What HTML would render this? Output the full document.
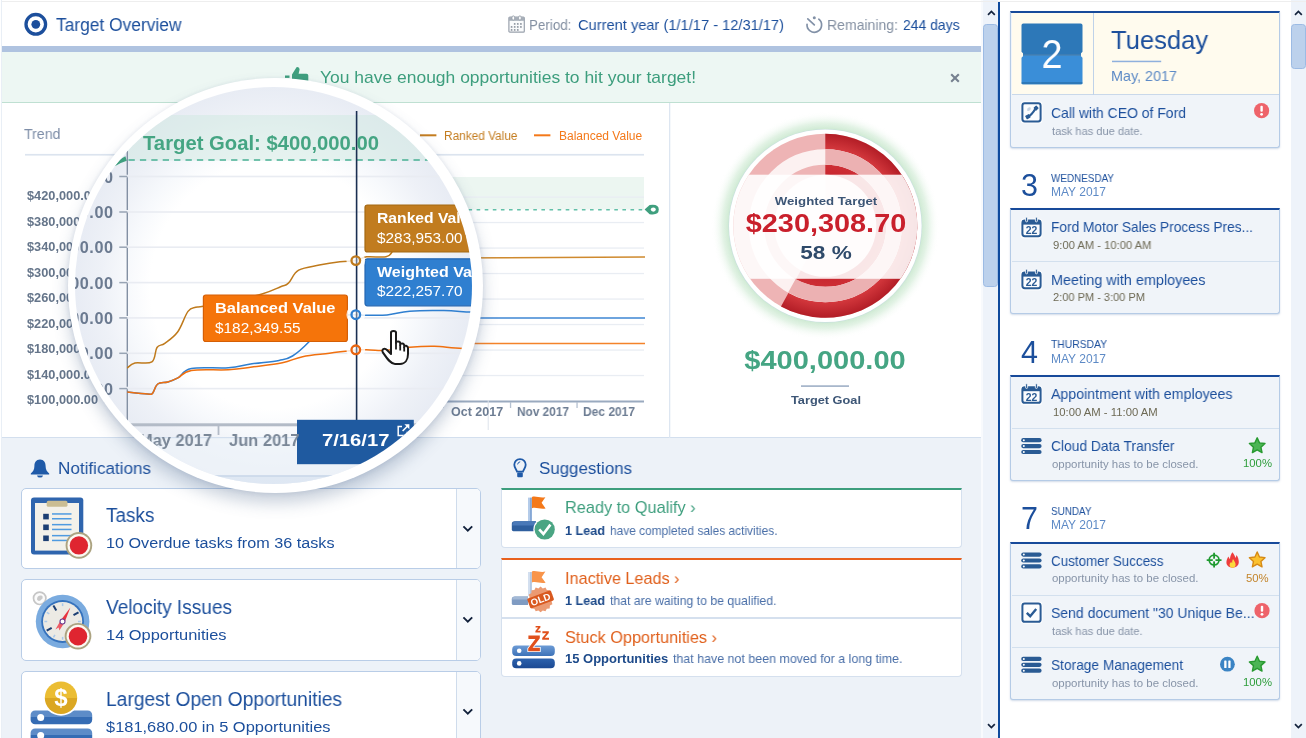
<!DOCTYPE html>
<html>
<head>
<meta charset="utf-8">
<title>Target Overview</title>
<style>
*{box-sizing:border-box;margin:0;padding:0}
html,body{width:1306px;height:738px;overflow:hidden;background:#fff;font-family:"Liberation Sans",sans-serif;color:#1c4f9c}
.abs{position:absolute}
svg{position:absolute;overflow:visible}
#main{position:absolute;left:0;top:0;width:980.5px;height:738px;background:#edf2f8;overflow:hidden}
#hdr{position:absolute;left:0;top:0;width:981px;height:46px;background:#fff}
#hdrline{position:absolute;left:0;top:46px;width:982px;height:6px;background:#afc3e0}
#banner{position:absolute;left:0;top:52px;width:982px;height:51px;background:#edf7f3;border-bottom:1px solid #bfe0d2}
#chartpanel{position:absolute;left:0;top:103px;width:982px;height:335px;background:#fff;border-bottom:1px solid #d3dfee}
.t{position:absolute;white-space:nowrap;line-height:1;will-change:transform}
#sb1{position:absolute;left:983px;top:0;width:14.8px;height:738px;background:#eef3fa}
#gap1{position:absolute;left:980.5px;top:0;width:2.5px;height:738px;background:#f8fafd}
#sb2{position:absolute;left:1291px;top:0;width:15px;height:738px;background:#eef3fa}
#vline{position:absolute;left:998px;top:2px;width:2.2px;height:736px;background:#0f4a9c}
#side{position:absolute;left:1000px;top:0;width:291px;height:738px;background:#fff;overflow:hidden}
#topline{position:absolute;left:0;top:0.5px;width:1306px;height:1px;background:#eeeeee}
</style>
</head>
<body>
<div id="main">
  <div id="hdr">
<svg style="left:23px;top:12px" width="26" height="26" viewBox="0 0 26 26"><circle cx="12.8" cy="12.3" r="9.8" fill="none" stroke="#1c4f9c" stroke-width="3.3"/><circle cx="12.8" cy="12.3" r="4.4" fill="#1c4f9c"/></svg>
<div class="t" style="left:56px;top:15.56px;font-size:18px;color:#1c4f9c;transform:scaleX(0.9650);transform-origin:0 50%;">Target Overview</div>
<svg style="left:507px;top:15px" width="19" height="19" viewBox="0 0 19 19"><rect x="1.9" y="2.2" width="15.4" height="15" rx="1" fill="#fafbfc" stroke="#99a1ac" stroke-width="1.2"/><rect x="1.9" y="2.2" width="15.4" height="3.6" fill="#a7aeb8"/><rect x="5" y="0.9" width="2.6" height="4.2" rx="1.3" fill="#fff" stroke="#99a1ac" stroke-width="0.9"/><rect x="11.6" y="0.9" width="2.6" height="4.2" rx="1.3" fill="#fff" stroke="#99a1ac" stroke-width="0.9"/><circle cx="7.7" cy="8.9" r="0.95" fill="#8b939e"/><circle cx="10.8" cy="8.9" r="0.95" fill="#8b939e"/><circle cx="13.9" cy="8.9" r="0.95" fill="#8b939e"/><circle cx="4.6" cy="11.9" r="0.95" fill="#8b939e"/><circle cx="7.7" cy="11.9" r="0.95" fill="#8b939e"/><circle cx="10.8" cy="11.9" r="0.95" fill="#8b939e"/><circle cx="13.9" cy="11.9" r="0.95" fill="#8b939e"/><circle cx="4.6" cy="14.9" r="0.95" fill="#8b939e"/><circle cx="7.7" cy="14.9" r="0.95" fill="#8b939e"/><circle cx="10.8" cy="14.9" r="0.95" fill="#8b939e"/></svg>
<div class="t" style="left:528.5px;top:16.80px;font-size:15px;color:#8490a2;transform:scaleX(0.8941);transform-origin:0 50%;">Period:</div>
<div class="t" style="left:577.5px;top:16.80px;font-size:15px;color:#1c4f9c;transform:scaleX(0.9765);transform-origin:0 50%;">Current year (1/1/17 - 12/31/17)</div>
<svg style="left:804px;top:14px" width="20" height="20" viewBox="0 0 20 20"><path d="M3.03 10.26 A7.3 7.3 0 1 0 14.79 5.15" fill="none" stroke="#8291a7" stroke-width="1.7" stroke-linecap="round"/><path d="M3.8 4.9 L10.3 10.9" stroke="#8291a7" stroke-width="1.7" stroke-linecap="round"/><circle cx="10.3" cy="3.8" r="1.5" fill="#8291a7"/></svg>
<div class="t" style="left:826.5px;top:16.80px;font-size:15px;color:#8490a2;transform:scaleX(0.9357);transform-origin:0 50%;">Remaining:</div>
<div class="t" style="left:902.5px;top:16.80px;font-size:15px;color:#1c4f9c;transform:scaleX(0.9279);transform-origin:0 50%;">244 days</div>
  </div>
  <div id="hdrline"></div>
  <div id="banner">
<svg style="left:284px;top:14px" width="26" height="20" viewBox="0 0 26 20"><rect x="1" y="9.5" width="4.5" height="2.4" fill="#3f9f7e"/><path d="M8 18 V8.5 L12.5 1.2 Q15.6 0.6 15.6 3.6 L14.6 7.8 H22.5 Q24.3 7.8 24.3 9.6 V18 Z" fill="#3f9f7e"/></svg>
<div class="t" style="left:320px;top:17.41px;font-size:17px;color:#3d9e7d;transform:scaleX(1.0271);transform-origin:0 50%;">You have enough opportunities to hit your target!</div>
<svg style="left:950px;top:20.7px" width="10" height="10" viewBox="0 0 10 10"><path d="M1.2 1.2 L8.8 8.8 M8.8 1.2 L1.2 8.8" stroke="#76818f" stroke-width="2.1"/></svg>
  </div>
  <div id="chartpanel"></div>
  <div class="abs" style="left:0;top:0;width:2px;height:738px;background:#e9eff6;z-index:5"></div><div class="abs" style="left:0;top:0;width:1.2px;height:738px;background:#fff;z-index:6"></div>
<div class="t" style="left:23.8px;top:126.30px;font-size:15px;color:#7e8ea8;transform:scaleX(0.9446);transform-origin:0 50%;">Trend</div>
<svg style="left:0;top:0" width="982" height="440" viewBox="0 0 982 440"><rect x="25" y="153.9" width="619" height="1.7" fill="#dce4ef"/><rect x="104" y="177" width="540" height="32.5" fill="#ecf6f1"/><rect x="104" y="196.4" width="540" height="1.3" fill="#e9edf3"/><rect x="104" y="221.9" width="540" height="1.3" fill="#e9edf3"/><rect x="104" y="247.4" width="540" height="1.3" fill="#e9edf3"/><rect x="104" y="272.9" width="540" height="1.3" fill="#e9edf3"/><rect x="104" y="298.4" width="540" height="1.3" fill="#e9edf3"/><rect x="104" y="323.9" width="540" height="1.3" fill="#e9edf3"/><rect x="104" y="349.4" width="540" height="1.3" fill="#e9edf3"/><rect x="104" y="374.9" width="540" height="1.3" fill="#e9edf3"/><rect x="104" y="400.5" width="540" height="2" fill="#9aaabf"/><rect x="442.4" y="402" width="1.3" height="6" fill="#b5c1d1"/><rect x="509.9" y="402" width="1.3" height="6" fill="#b5c1d1"/><rect x="576.4" y="402" width="1.3" height="6" fill="#b5c1d1"/><rect x="487.7" y="400" width="1" height="30" fill="#dde3ec"/><path d="M104 209.7 H645" stroke="#62c0a8" stroke-width="1.5" stroke-dasharray="3.6 4.5" fill="none"/><path d="M644.6 209.6 L649.6 205 Q658.8 203.6 658.8 209.6 Q658.8 215.6 649.6 214.2 Z" fill="#3f9f7e"/><ellipse cx="653.3" cy="209.6" rx="2.5" ry="2.1" fill="#fff"/><path d="M104 330 L300 300 L440 258 L645 257" stroke="#cf8a2e" stroke-width="1.5" fill="none"/><path d="M104 360 L300 340 L440 318 L645 318" stroke="#3f86d4" stroke-width="1.5" fill="none"/><path d="M104 365 L300 352 L440 343.5 L645 343.5" stroke="#f4832a" stroke-width="1.5" fill="none"/><rect x="420" y="134.3" width="16.4" height="2" fill="#c47d20"/><rect x="534" y="134.3" width="16.4" height="2" fill="#f4791a"/><rect x="669" y="103" width="1.3" height="335" fill="#dde6f1"/></svg>
<div class="t" style="left:444.4px;top:130.04px;font-size:12px;color:#c47d20;transform:scaleX(0.9866);transform-origin:0 50%;">Ranked Value</div>
<div class="t" style="left:558.8px;top:130.04px;font-size:12px;color:#f4791a;transform:scaleX(0.9977);transform-origin:0 50%;">Balanced Value</div>
<div class="t" style="left:27.3px;top:190.22px;font-size:12.5px;font-weight:bold;color:#65758a;transform:scaleX(1.0214);transform-origin:0 50%;">$420,000.00</div>
<div class="t" style="left:27.3px;top:215.75px;font-size:12.5px;font-weight:bold;color:#65758a;transform:scaleX(1.0214);transform-origin:0 50%;">$380,000.00</div>
<div class="t" style="left:27.3px;top:241.28px;font-size:12.5px;font-weight:bold;color:#65758a;transform:scaleX(1.0214);transform-origin:0 50%;">$340,000.00</div>
<div class="t" style="left:27.3px;top:266.81px;font-size:12.5px;font-weight:bold;color:#65758a;transform:scaleX(1.0214);transform-origin:0 50%;">$300,000.00</div>
<div class="t" style="left:27.3px;top:292.34px;font-size:12.5px;font-weight:bold;color:#65758a;transform:scaleX(1.0214);transform-origin:0 50%;">$260,000.00</div>
<div class="t" style="left:27.3px;top:317.87px;font-size:12.5px;font-weight:bold;color:#65758a;transform:scaleX(1.0214);transform-origin:0 50%;">$220,000.00</div>
<div class="t" style="left:27.3px;top:343.40px;font-size:12.5px;font-weight:bold;color:#65758a;transform:scaleX(1.0214);transform-origin:0 50%;">$180,000.00</div>
<div class="t" style="left:27.3px;top:368.93px;font-size:12.5px;font-weight:bold;color:#65758a;transform:scaleX(1.0214);transform-origin:0 50%;">$140,000.00</div>
<div class="t" style="left:27.3px;top:394.46px;font-size:12.5px;font-weight:bold;color:#65758a;transform:scaleX(1.0214);transform-origin:0 50%;">$100,000.00</div>
<div class="t" style="left:451px;top:405.72px;font-size:12.5px;font-weight:bold;color:#6d7d93;transform:scaleX(0.9976);transform-origin:0 50%;">Oct 2017</div>
<div class="t" style="left:517px;top:405.72px;font-size:12.5px;font-weight:bold;color:#6d7d93;transform:scaleX(0.9471);transform-origin:0 50%;">Nov 2017</div>
<div class="t" style="left:583px;top:405.72px;font-size:12.5px;font-weight:bold;color:#6d7d93;transform:scaleX(0.9591);transform-origin:0 50%;">Dec 2017</div>
<svg style="left:0;top:0" width="982" height="440" viewBox="0 0 982 440"><defs><radialGradient id="gglow" cx="50%" cy="50%" r="50%"><stop offset="0.82" stop-color="#bfe3c5" stop-opacity="0.95"/><stop offset="0.9" stop-color="#d3ecd7" stop-opacity="0.65"/><stop offset="1" stop-color="#ffffff" stop-opacity="0"/></radialGradient><radialGradient id="gdark" gradientUnits="userSpaceOnUse" cx="825.3" cy="225.8" r="92.0"><stop offset="0.55" stop-color="#c8272f"/><stop offset="0.83" stop-color="#d4383d"/><stop offset="1" stop-color="#b21d26"/></radialGradient><clipPath id="gclip"><circle cx="825.3" cy="225.8" r="92.0"/></clipPath></defs><circle cx="825.3" cy="225.8" r="114" fill="url(#gglow)"/><circle cx="825.3" cy="225.8" r="96.89999999999999" fill="#c9dfe0"/><circle cx="825.3" cy="225.8" r="96.3" fill="#fff"/><circle cx="825.3" cy="225.8" r="92.0" fill="#eeb4b5"/><path d="M825.3 225.8 L825.3 133.8 A92.0 92.0 0 1 1 780.98 306.42 Z" fill="url(#gdark)"/><circle cx="825.3" cy="225.8" r="68.7" fill="none" stroke="#fcf1f1" stroke-width="15.5"/><circle cx="825.3" cy="225.8" r="68.7" fill="none" stroke="#ecb1b2" stroke-width="15.5" stroke-dasharray="250.36 431.65" transform="rotate(-90 825.3 225.8)"/><circle cx="825.3" cy="225.8" r="51" fill="#fdf3f3" fill-opacity="0.93"/><rect x="728.3" y="174.7" width="194" height="104.1" fill="#fff" fill-opacity="0.885" clip-path="url(#gclip)"/><rect x="801" y="385.3" width="48" height="1.6" fill="#9fb0c6"/></svg>
<div class="t" style="left:826.0999999999999px;transform:translateX(-50%) scaleX(1.1223);transform-origin:50% 50%;top:196.01px;font-size:11.8px;font-weight:bold;color:#3d5676;">Weighted Target</div>
<div class="t" style="left:825.6999999999999px;transform:translateX(-50%) scaleX(1.1458);transform-origin:50% 50%;top:211.07px;font-size:25.2px;font-weight:bold;color:#c9202c;">$230,308.70</div>
<div class="t" style="left:825.5999999999999px;transform:translateX(-50%) scaleX(1.2006);transform-origin:50% 50%;top:243.89px;font-size:18.8px;font-weight:bold;color:#2f4a6a;">58 %</div>
<div class="t" style="left:825.3px;transform:translateX(-50%) scaleX(1.1616);transform-origin:50% 50%;top:347.84px;font-size:25px;font-weight:bold;color:#45a583;">$400,000.00</div>
<div class="t" style="left:825.5px;transform:translateX(-50%) scaleX(1.0821);transform-origin:50% 50%;top:394.91px;font-size:11.8px;font-weight:bold;color:#3d5676;">Target Goal</div>
<svg style="left:30px;top:458px" width="20" height="21" viewBox="0 0 20 21"><path d="M10 1.6 C6 1.6 4.4 4.8 4.4 8 C4.4 12 3 13.6 0.8 15.4 V16.4 H19.2 V15.4 C17 13.6 15.6 12 15.6 8 C15.6 4.8 14 1.6 10 1.6 Z" fill="#1f5aa8"/><path d="M7 17.4 H13 Q12.6 19.6 10 19.6 Q7.4 19.6 7 17.4Z" fill="#1f5aa8"/></svg>
<div class="t" style="left:58.2px;top:459.84px;font-size:17.2px;color:#1c4f9c;transform:scaleX(0.9933);transform-origin:0 50%;">Notifications</div>
<div class="abs" style="left:20.5px;top:487.6px;width:460px;height:81.5px;background:#fff;border:1.3px solid #b9cde7;border-radius:5px;overflow:hidden"><div class="abs" style="left:434.5px;top:0;width:26px;height:81px;background:#f6f9fc;border-left:1.2px solid #cfdcec"></div><svg style="left:440.5px;top:36px" width="12" height="8" viewBox="0 0 12 8"><path d="M1.4 1.4 L5.8 5.6 L10.2 1.4" fill="none" stroke="#14233d" stroke-width="1.9"/></svg></div>
<div class="abs" style="left:20.5px;top:579.3px;width:460px;height:81.5px;background:#fff;border:1.3px solid #b9cde7;border-radius:5px;overflow:hidden"><div class="abs" style="left:434.5px;top:0;width:26px;height:81px;background:#f6f9fc;border-left:1.2px solid #cfdcec"></div><svg style="left:440.5px;top:36px" width="12" height="8" viewBox="0 0 12 8"><path d="M1.4 1.4 L5.8 5.6 L10.2 1.4" fill="none" stroke="#14233d" stroke-width="1.9"/></svg></div>
<div class="abs" style="left:20.5px;top:671.2px;width:460px;height:81.5px;background:#fff;border:1.3px solid #b9cde7;border-radius:5px;overflow:hidden"><div class="abs" style="left:434.5px;top:0;width:26px;height:81px;background:#f6f9fc;border-left:1.2px solid #cfdcec"></div><svg style="left:440.5px;top:36px" width="12" height="8" viewBox="0 0 12 8"><path d="M1.4 1.4 L5.8 5.6 L10.2 1.4" fill="none" stroke="#14233d" stroke-width="1.9"/></svg></div>
<svg style="left:0;top:0" width="982" height="738" viewBox="0 0 982 738"><defs><linearGradient id="coin" x1="0" y1="0" x2="0" y2="1"><stop offset="0.5" stop-color="#ebbd33"/><stop offset="0.5" stop-color="#dba722"/></linearGradient><linearGradient id="bar1" x1="0" y1="0" x2="0" y2="1"><stop offset="0.5" stop-color="#5d8cc8"/><stop offset="0.5" stop-color="#356cb4"/></linearGradient></defs><rect x="31" y="497.6" width="52.3" height="56.8" rx="3" fill="#2f65ae"/><rect x="35" y="503" width="44" height="47.6" fill="#f3f1ea"/><rect x="46.7" y="500.8" width="20.8" height="6" rx="1.6" fill="#cabd93"/><rect x="43.2" y="513.8000000000001" width="5.6" height="5.6" fill="#1d3f73"/><rect x="52" y="513.2" width="19.5" height="1.5" fill="#4f9be0"/><rect x="52" y="518.0" width="19.5" height="1.5" fill="#4f9be0"/><rect x="43.2" y="524.5" width="5.6" height="5.6" fill="#1d3f73"/><rect x="52" y="523.9" width="19.5" height="1.5" fill="#4f9be0"/><rect x="52" y="528.6999999999999" width="19.5" height="1.5" fill="#4f9be0"/><rect x="43.2" y="535.5" width="5.6" height="5.6" fill="#1d3f73"/><rect x="52" y="534.9" width="19.5" height="1.5" fill="#4f9be0"/><rect x="52" y="539.6999999999999" width="19.5" height="1.5" fill="#4f9be0"/><circle cx="78.9" cy="545.4" r="13.3" fill="#aca381"/><circle cx="78.9" cy="545.4" r="11.4" fill="#fbf9f2"/><circle cx="78.9" cy="545.4" r="9.2" fill="#df2530"/><path d="M42.5 601.2 L47.5 606.4" stroke="#b5b5b5" stroke-width="2.2"/><circle cx="39.7" cy="598.3" r="6.2" fill="#fbfbfb" stroke="#c6c6c6" stroke-width="1.7"/><path d="M37 599.6 Q37 595.4 41 595.6 Q43.4 596 42.4 598.4 L40.4 600.6 Q38 601.6 37 599.6Z" fill="#c9c9c9"/><circle cx="62.6" cy="621.5" r="26.8" fill="#7aabdf"/><circle cx="62.6" cy="621.5" r="21.4" fill="#3572bd"/><circle cx="62.6" cy="621.5" r="19.6" fill="#eceae4"/><path d="M62.6 606.1 L62.6 603.3" stroke="#a9c8ea" stroke-width="1.5"/><path d="M73.5 615.2 L78.5 612.3" stroke="#1d3f73" stroke-width="2"/><path d="M78.0 621.5 L80.8 621.5" stroke="#a9c8ea" stroke-width="1.5"/><path d="M62.6 636.9 L62.6 639.7" stroke="#a9c8ea" stroke-width="1.5"/><path d="M54.9 634.8 L53.5 637.3" stroke="#a9c8ea" stroke-width="1.5"/><path d="M51.7 627.8 L46.7 630.7" stroke="#1d3f73" stroke-width="2"/><path d="M47.2 621.5 L44.4 621.5" stroke="#a9c8ea" stroke-width="1.5"/><path d="M49.3 613.8 L46.8 612.4" stroke="#a9c8ea" stroke-width="1.5"/><path d="M56.3 610.6 L53.4 605.6" stroke="#1d3f73" stroke-width="2"/><path d="M70.4 607.6 L64.5 622.4 L60.6 620.4 Z" fill="#e8323e"/><path d="M55.4 629.4 L60.6 620.4 L64.5 622.4 L59.4 630.6 L58.6 627.6 Z" fill="#ee5a64"/><circle cx="62.5" cy="621.5" r="2.5" fill="#fff" stroke="#6a3a8e" stroke-width="1.1"/><circle cx="78" cy="636.2" r="13.3" fill="#aca381"/><circle cx="78" cy="636.2" r="11.4" fill="#fbf9f2"/><circle cx="78" cy="636.2" r="9.2" fill="#df2530"/><rect x="30.6" y="710.5" width="61.6" height="13.8" rx="4.5" fill="url(#bar1)"/><circle cx="40.7" cy="717.4" r="3.5" fill="#fff"/><rect x="30.6" y="728.4" width="61.6" height="13.8" rx="4.5" fill="url(#bar1)"/><circle cx="40.7" cy="735.4" r="3.5" fill="#fff"/><circle cx="61" cy="697.7" r="18" fill="#fff"/><circle cx="61" cy="697.7" r="16.2" fill="url(#coin)"/></svg>
<div class="t" style="left:61px;transform:translateX(-50%);top:686.28px;font-size:24px;font-weight:bold;color:#fff;">$</div>
<div class="t" style="left:105.7px;top:506.09px;font-size:19.5px;color:#1c4f9c;transform:scaleX(0.9727);transform-origin:0 50%;">Tasks</div>
<div class="t" style="left:105.7px;top:535.18px;font-size:15.5px;color:#1c4f9c;transform:scaleX(1.0442);transform-origin:0 50%;">10 Overdue tasks from 36 tasks</div>
<div class="t" style="left:105.7px;top:598.09px;font-size:19.5px;color:#1c4f9c;transform:scaleX(0.9769);transform-origin:0 50%;">Velocity Issues</div>
<div class="t" style="left:105.7px;top:627.28px;font-size:15.5px;color:#1c4f9c;transform:scaleX(1.0593);transform-origin:0 50%;">14 Opportunities</div>
<div class="t" style="left:105.7px;top:689.89px;font-size:19.5px;color:#1c4f9c;transform:scaleX(0.9851);transform-origin:0 50%;">Largest Open Opportunities</div>
<div class="t" style="left:105.7px;top:719.08px;font-size:15.5px;color:#1c4f9c;transform:scaleX(1.0590);transform-origin:0 50%;">$181,680.00 in 5 Opportunities</div>
<svg style="left:513px;top:458px" width="14" height="21" viewBox="0 0 14 21"><path d="M7 1.2 C3.4 1.2 1.3 3.8 1.3 6.8 C1.3 9.6 3.2 10.8 4 13.6 H10 C10.8 10.8 12.7 9.6 12.7 6.8 C12.7 3.8 10.6 1.2 7 1.2 Z" fill="#edf2f8" stroke="#1f5aa8" stroke-width="1.8"/><rect x="4.2" y="14.6" width="5.6" height="4.6" rx="1" fill="#1f5aa8"/><path d="M4.6 6.4 Q5 4 7.2 3.8" fill="none" stroke="#1f5aa8" stroke-width="1"/></svg>
<div class="t" style="left:538.6px;top:459.84px;font-size:17.2px;color:#1c4f9c;transform:scaleX(0.9830);transform-origin:0 50%;">Suggestions</div>
<div class="abs" style="left:501px;top:487.5px;width:460.5px;height:60px;background:#fff;border:1.2px solid #d5e0ee;border-top:2.4px solid #3d9e7d;border-radius:0 0 4px 4px"></div>
<div class="abs" style="left:501px;top:558px;width:460.5px;height:118.5px;background:#fff;border:1.2px solid #d5e0ee;border-top:2.4px solid #e8601c;border-radius:0 0 4px 4px"></div>
<div class="abs" style="left:502px;top:617.3px;width:458.5px;height:1.4px;background:#d5e0ee"></div>
<svg style="left:0;top:0" width="982" height="738" viewBox="0 0 982 738"><rect x="528" y="497.6" width="2" height="24" fill="#b4cbe9"/><rect x="530" y="497.6" width="1.9" height="24" fill="#86a8d6"/><path d="M531.9 497 C536 495.6 540 498.6 545.4 497.2 L541.6 502.8 L545.6 508.4 C540 509.6 536 506.6 531.9 508.2 Z" fill="#f4791a"/><path d="M514.5 521.3 H536 L534.6 531.2 H513.4 Q511.8 531.2 511.8 529.6 V524 Q511.8 521.3 514.5 521.3Z" fill="#2f5f9e"/><path d="M516.5 521.3 H536 L535.4 525.6 H512 Q512.6 521.3 516.5 521.3Z" fill="#4a79b8"/><circle cx="544.7" cy="529.5" r="11.4" fill="#fff"/><circle cx="544.7" cy="529.5" r="10.1" fill="#4aa583"/><path d="M539.2 529.4 L543.4 534 L550.4 524.6" fill="none" stroke="#fff" stroke-width="2.6"/><rect x="528" y="572" width="2" height="24" fill="#d3dfef"/><rect x="530" y="572" width="1.9" height="24" fill="#b3c7e2"/><path d="M531.9 571.4 C536 570 540 573 545.4 571.6 L541.6 577.2 L545.6 582.8 C540 584 536 581 531.9 582.6 Z" fill="#f8944a"/><path d="M514.5 596.6 H528 V605 H513.4 Q511.8 605 511.8 603.4 V599.3 Q511.8 596.6 514.5 596.6Z" fill="#7f9bc2"/><path d="M515.5 596.6 H528 V599.6 H512 Q512.6 596.6 515.5 596.6Z" fill="#a3b9d6"/><polygon points="553.4,599.4 551.6,601.6 552.4,604.3 549.9,605.6 549.7,608.5 546.8,608.7 545.5,611.2 542.8,610.4 540.6,612.2 538.4,610.4 535.7,611.2 534.4,608.7 531.5,608.5 531.3,605.6 528.8,604.3 529.6,601.6 527.8,599.4 529.6,597.2 528.8,594.5 531.3,593.2 531.5,590.3 534.4,590.1 535.7,587.6 538.4,588.4 540.6,586.6 542.8,588.4 545.5,587.6 546.8,590.1 549.7,590.3 549.9,593.2 552.4,594.5 551.6,597.2" fill="#eb9a72"/><rect x="-12.6" y="-5.2" width="25.2" height="10.4" rx="1.2" transform="translate(540.6 599.4) rotate(-20)" fill="#d9591f"/><text x="0" y="3.4" transform="translate(540.6 599.4) rotate(-20)" text-anchor="middle" font-family="Liberation Sans, sans-serif" font-weight="bold" font-size="9.6" fill="#fff" letter-spacing="0.2">OLD</text><defs><linearGradient id="sb1g" x1="0" y1="0" x2="0" y2="1"><stop offset="0" stop-color="#6d9cd6"/><stop offset="1" stop-color="#3d72b8"/></linearGradient><linearGradient id="sb2g" x1="0" y1="0" x2="0" y2="1"><stop offset="0" stop-color="#2c62ad"/><stop offset="1" stop-color="#1c4993"/></linearGradient></defs><rect x="512.2" y="645.4" width="42.6" height="10.6" rx="4" fill="url(#sb1g)"/><circle cx="519.2" cy="650.8" r="2.3" fill="#fff"/><rect x="512.2" y="658.4" width="42.6" height="9.8" rx="4" fill="url(#sb2g)"/><circle cx="519.2" cy="663.4" r="2.3" fill="#fff"/><path d="M528.4 635.6 H539.8 V638.2 L532.6 647.8 H539.9 V651.2 H528.2 V648.6 L535.4 639 H528.4Z" fill="#e0501c" stroke="#fff" stroke-width="1.6" paint-order="stroke"/><path d="M542.4 631.2 H548.8 V633 L544.8 637.8 H549 V639.8 H542.2 V638 L546.2 633.2 H542.4Z" fill="#e0501c"/><path d="M535.6 626 H540.4 V627.4 L537.6 630.8 H540.6 V632.4 H535.4 V631 L538.2 627.6 H535.6Z" fill="#e0501c"/></svg>
<div class="t" style="left:565px;top:499.01px;font-size:17px;color:#3d9e7d;transform:scaleX(0.9591);transform-origin:0 50%;">Ready to Qualify ›</div>
<div class="t" style="left:565px;top:523.60px;font-size:13px;font-weight:bold;color:#1d4a8a;transform:scaleX(0.9712);transform-origin:0 50%;">1 Lead</div>
<div class="t" style="left:610.4px;top:523.60px;font-size:13px;color:#4a6fa8;transform:scaleX(0.9162);transform-origin:0 50%;">have completed sales activities.</div>
<div class="t" style="left:565px;top:570.11px;font-size:17px;color:#e0601c;transform:scaleX(0.9540);transform-origin:0 50%;">Inactive Leads ›</div>
<div class="t" style="left:565px;top:594.20px;font-size:13px;font-weight:bold;color:#1d4a8a;transform:scaleX(0.9712);transform-origin:0 50%;">1 Lead</div>
<div class="t" style="left:610.4px;top:594.20px;font-size:13px;color:#4a6fa8;transform:scaleX(0.9442);transform-origin:0 50%;">that are waiting to be qualified.</div>
<div class="t" style="left:565px;top:628.51px;font-size:17px;color:#e0601c;transform:scaleX(0.9575);transform-origin:0 50%;">Stuck Opportunities ›</div>
<div class="t" style="left:565px;top:652.00px;font-size:13px;font-weight:bold;color:#1d4a8a;transform:scaleX(0.9971);transform-origin:0 50%;">15 Opportunities</div>
<div class="t" style="left:673px;top:652.00px;font-size:13px;color:#4a6fa8;transform:scaleX(0.9565);transform-origin:0 50%;">that have not been moved for a long time.</div>
<div class="abs" style="left:67.5px;top:77.5px;width:415.0px;height:415.0px;border-radius:50%;background:#fff;box-shadow:0 10px 16px rgba(70,95,135,0.29),0 1px 5px rgba(70,95,135,0.14)"></div>
<div class="abs" style="left:75.30000000000001px;top:86.5px;width:397.0px;height:397.0px;border-radius:50%;overflow:hidden;background:radial-gradient(circle closest-side, #ffffff 62%, #f7f9fc 74%, #eef1f7 87%, #e8ecf4 100%)">
<div class="abs" style="left:-75.30000000000001px;top:-86.5px;width:600px;height:600px">
<svg style="left:0;top:0" width="600" height="600" viewBox="0 0 600 600"><rect x="127.6" y="115" width="380" height="45.5" fill="#d2eae1" fill-opacity="0.55"/><rect x="127" y="175.7" width="380" height="1.6" fill="#e9ecf2"/><rect x="119.3" y="175.75" width="8" height="1.5" fill="#98a4b4"/><rect x="127" y="211.2" width="380" height="1.6" fill="#e9ecf2"/><rect x="119.3" y="211.25" width="8" height="1.5" fill="#98a4b4"/><rect x="127" y="246.39999999999998" width="380" height="1.6" fill="#e9ecf2"/><rect x="119.3" y="246.45" width="8" height="1.5" fill="#98a4b4"/><rect x="127" y="281.8" width="380" height="1.6" fill="#e9ecf2"/><rect x="119.3" y="281.85" width="8" height="1.5" fill="#98a4b4"/><rect x="127" y="317.09999999999997" width="380" height="1.6" fill="#e9ecf2"/><rect x="119.3" y="317.15" width="8" height="1.5" fill="#98a4b4"/><rect x="127" y="352.5" width="380" height="1.6" fill="#e9ecf2"/><rect x="119.3" y="352.55" width="8" height="1.5" fill="#98a4b4"/><rect x="127" y="387.8" width="380" height="1.6" fill="#e9ecf2"/><rect x="119.3" y="387.85" width="8" height="1.5" fill="#98a4b4"/><path d="M127.3 150.5 V424" stroke="#8390a3" stroke-width="1.4" stroke-dasharray="32.8 2.55" stroke-dashoffset="8.6" fill="none"/><rect x="60" y="437.6" width="440" height="60" fill="#eef3f9" fill-opacity="0.7"/><rect x="60" y="437" width="440" height="1.2" fill="#d3dfee"/><rect x="60" y="476" width="440" height="20" fill="#dbe5f1" fill-opacity="0.8"/><rect x="60" y="475.3" width="440" height="1.3" fill="#c3d3e7"/><rect x="60" y="423.3" width="440" height="3" fill="#b3bbc7"/><rect x="217.6" y="425" width="1.8" height="10" fill="#b3bbc7"/><path d="M128.5 160 H500" stroke="#48b094" stroke-width="1.7" stroke-dasharray="6.3 5.1" fill="none"/><path d="M114.3 166.6 Q119 159.4 125.4 156.2 L126.8 160.8 Q120 162.8 114.3 166.6Z" fill="#3f9f7e"/><path d="M127.2 368.0 C128.6 367.1 130.5 364.1 134.9 363.0 C139.3 361.9 147.9 364.7 151.9 361.9 C155.9 359.1 154.7 350.8 157.0 347.5 C159.3 344.2 161.1 346.1 164.8 343.3 C168.5 340.5 173.4 337.7 177.6 332.0 C181.8 326.3 184.7 315.8 188.0 311.4 C191.3 307.0 192.9 308.2 195.7 307.3 C198.5 306.4 196.3 307.6 203.4 306.3 C210.5 305.0 224.5 302.2 235.0 300.0 C245.5 297.8 253.8 296.4 262.0 294.0 C270.2 291.6 275.8 288.7 280.6 286.7 C285.4 284.7 285.1 286.1 288.4 283.1 C291.7 280.1 293.1 273.4 298.7 270.2 C304.3 267.0 311.9 266.6 319.3 265.1 C326.7 263.6 333.3 262.6 339.9 261.8 C346.5 261.0 351.0 261.5 355.8 260.6 C360.6 259.7 361.2 257.5 366.6 256.8 C372.0 256.1 381.3 257.8 386.0 256.8 C390.7 255.8 390.8 254.0 392.6 251.0 C394.4 248.0 389.3 242.7 396.0 240.0 C402.7 237.3 414.9 236.7 430.0 236.0 C445.1 235.3 471.0 236.0 480.0 236.0" fill="none" stroke="#bf7a1c" stroke-width="1.5"/><path d="M127.2 392.1 C130.9 392.5 143.0 393.9 147.6 394.1 C152.2 394.3 150.9 394.9 152.7 393.1 C154.5 391.3 155.0 386.0 157.7 384.0 C160.4 382.0 164.2 383.1 167.8 382.0 C171.4 380.9 173.7 380.3 177.9 377.9 C182.1 375.5 182.3 370.3 191.4 368.5 C200.5 366.7 217.6 368.6 228.5 367.8 C239.4 367.0 242.9 365.1 252.0 363.8 C261.1 362.5 271.7 361.8 279.0 360.4 C286.3 359.0 287.0 359.4 292.5 356.0 C298.0 352.6 303.4 347.6 309.3 341.5 C315.2 335.4 319.5 326.6 325.0 322.0 C330.5 317.4 334.5 317.3 340.0 316.0 C345.5 314.7 351.1 314.9 355.8 314.8 C360.5 314.7 360.4 315.2 366.0 315.2 C371.6 315.2 379.1 315.7 387.0 315.0 C394.9 314.3 399.5 312.0 409.7 311.2 C419.9 310.4 432.8 310.4 443.9 310.6 C455.0 310.8 461.3 311.7 471.4 312.1 C481.5 312.5 494.9 312.8 500.0 313.0" fill="none" stroke="#2f7fd0" stroke-width="1.5"/><path d="M127.2 392.1 C130.9 392.5 143.0 393.9 147.6 394.1 C152.2 394.3 150.9 394.9 152.7 393.1 C154.5 391.3 155.0 386.0 157.7 384.0 C160.4 382.0 164.2 383.1 167.8 382.0 C171.4 380.9 173.7 380.0 177.9 377.9 C182.1 375.8 182.3 372.0 191.4 370.5 C200.5 369.0 217.6 370.4 228.5 369.8 C239.4 369.2 242.3 368.4 252.0 367.1 C261.7 365.8 273.3 364.7 282.4 362.8 C291.5 360.9 294.1 358.4 302.6 356.7 C311.1 355.0 319.9 354.5 329.5 353.3 C339.1 352.1 348.5 350.5 355.8 349.9 C363.1 349.3 364.7 349.8 370.0 349.9 C375.3 350.0 377.9 350.9 385.0 350.4 C392.1 349.9 400.8 347.9 409.7 347.2 C418.6 346.5 424.8 346.1 434.4 346.3 C444.0 346.5 451.0 348.4 462.8 348.5 C474.6 348.6 493.3 347.3 500.0 347.0" fill="none" stroke="#f0700f" stroke-width="1.5"/><rect x="365" y="205" width="150" height="47" rx="2.5" fill="#c17c1f" stroke="#a46812" stroke-width="1.2"/><rect x="365" y="258.8" width="150" height="47" rx="2.5" fill="#2f7fd0" stroke="#2467b2" stroke-width="1.2"/><rect x="203.4" y="295" width="144" height="46.5" rx="2.5" fill="#f5740a" stroke="#d55f06" stroke-width="1.2"/><circle cx="355.8" cy="260.6" r="9.4" fill="#fff" fill-opacity="0.82"/><circle cx="355.8" cy="314.7" r="9.4" fill="#fff" fill-opacity="0.82"/><circle cx="355.8" cy="349.8" r="9.4" fill="#fff" fill-opacity="0.82"/><rect x="355.8" y="111" width="1.6" height="310" fill="#1a2f52"/><circle cx="355.8" cy="260.6" r="4.3" fill="#fff" fill-opacity="0.35" stroke="#bf7a1c" stroke-width="2.3"/><circle cx="355.8" cy="314.7" r="4.3" fill="#fff" fill-opacity="0.35" stroke="#2f7fd0" stroke-width="2.3"/><circle cx="355.8" cy="349.8" r="4.3" fill="#fff" fill-opacity="0.35" stroke="#e8640f" stroke-width="2.3"/><rect x="297" y="419.8" width="116.8" height="44.4" fill="#1f5aa0"/><path d="M402 426.4 H398.2 V435.4 H407.2 V431.8" fill="none" stroke="#fff" stroke-width="1.5"/><path d="M402.6 431 L408.6 425" stroke="#fff" stroke-width="1.6"/><path d="M404.4 424.2 H409.4 V429.2 Z" fill="#fff"/><g transform="translate(381 330)"><path d="M10 2.6 C10 0.3 15 0.3 15 2.6 V13 C15 10.8 19.2 10.8 19.2 13.4 V15 C19.2 12.6 23.2 13 23.2 15.6 V17.2 C23.2 14.8 27 15.6 27 18.2 V24 C27 30 24 34 19 34 H14 C10 34 7 30 2 22.6 C0 19.6 3.4 17.4 6 20 L10 24 Z" fill="#fff" stroke="#1b1b1b" stroke-width="2" stroke-linejoin="round"/><path d="M15 13 V19.5 M19.2 15 V20.5 M23.2 17 V21.5" stroke="#1b1b1b" stroke-width="1.8" fill="none"/></g></svg>
<div class="t" style="left:143px;top:133.27px;font-size:20px;font-weight:bold;color:#45a583;transform:scaleX(1.0125);transform-origin:0 50%;">Target Goal: $400,000.00</div>
<div class="t" style="left:0;width:113.5px;text-align:right;top:168.69px;font-size:16.2px;font-weight:bold;color:#6b7a90;letter-spacing:0.55px">$380,000.00</div>
<div class="t" style="left:0;width:113.5px;text-align:right;top:204.19px;font-size:16.2px;font-weight:bold;color:#6b7a90;letter-spacing:0.55px">$340,000.00</div>
<div class="t" style="left:0;width:113.5px;text-align:right;top:239.39px;font-size:16.2px;font-weight:bold;color:#6b7a90;letter-spacing:0.55px">$300,000.00</div>
<div class="t" style="left:0;width:113.5px;text-align:right;top:274.79px;font-size:16.2px;font-weight:bold;color:#6b7a90;letter-spacing:0.55px">$260,000.00</div>
<div class="t" style="left:0;width:113.5px;text-align:right;top:310.09px;font-size:16.2px;font-weight:bold;color:#6b7a90;letter-spacing:0.55px">$220,000.00</div>
<div class="t" style="left:0;width:113.5px;text-align:right;top:345.49px;font-size:16.2px;font-weight:bold;color:#6b7a90;letter-spacing:0.55px">$180,000.00</div>
<div class="t" style="left:0;width:113.5px;text-align:right;top:380.79px;font-size:16.2px;font-weight:bold;color:#6b7a90;letter-spacing:0.55px">$140,000.00</div>
<div class="t" style="left:139px;top:431.61px;font-size:17px;font-weight:bold;color:#7a8797;transform:scaleX(0.9653);transform-origin:0 50%;">May 2017</div>
<div class="t" style="left:229px;top:431.61px;font-size:17px;font-weight:bold;color:#7a8797;transform:scaleX(0.9689);transform-origin:0 50%;">Jun 2017</div>
<div class="t" style="left:376.5px;top:209.83px;font-size:15.2px;font-weight:bold;color:#fff;transform:scaleX(1.0327);transform-origin:0 50%;">Ranked Value</div>
<div class="t" style="left:376.5px;top:230.77px;font-size:14.8px;color:#fff;transform:scaleX(1.0389);transform-origin:0 50%;">$283,953.00</div>
<div class="t" style="left:376.5px;top:263.53px;font-size:15.2px;font-weight:bold;color:#fff;transform:scaleX(1.0539);transform-origin:0 50%;">Weighted Value</div>
<div class="t" style="left:376.5px;top:284.47px;font-size:14.8px;color:#fff;transform:scaleX(1.0389);transform-origin:0 50%;">$222,257.70</div>
<div class="t" style="left:215px;top:299.73px;font-size:15.2px;font-weight:bold;color:#fff;transform:scaleX(1.0813);transform-origin:0 50%;">Balanced Value</div>
<div class="t" style="left:215px;top:320.67px;font-size:14.8px;color:#fff;transform:scaleX(1.0389);transform-origin:0 50%;">$182,349.55</div>
<div class="t" style="left:322px;top:432.95px;font-size:16.6px;font-weight:bold;color:#fff;transform:scaleX(1.2190);transform-origin:0 50%;">7/16/17</div>
</div>
</div>
</div>
<div id="gap1"></div>
<div id="sb1">
<svg style="left:3.5px;top:9.5px" width="9" height="6" viewBox="0 0 9 6"><path d="M1 4.8 L4.4 1.5 L7.8 4.8" fill="none" stroke="#14233d" stroke-width="1.7"/></svg>
<div class="abs" style="left:0;top:23.5px;width:14.6px;height:263.5px;background:#bcd1ec;border:1.2px solid #9cbbe4;border-radius:3.5px"></div>
<svg style="left:3.5px;top:722.5px" width="9" height="6" viewBox="0 0 9 6"><path d="M1 1.2 L4.4 4.5 L7.8 1.2" fill="none" stroke="#14233d" stroke-width="1.7"/></svg>
</div>
<div id="vline"></div>
<div id="side">
<div class="abs" style="left:10.4px;top:10.5px;width:269.4px;height:137px;background:#f0f4f9;border:1.2px solid #b5cbe6;border-top:2.4px solid #174a9a;border-radius:0 0 3px 3px;box-shadow:0 1px 2px rgba(120,150,190,0.35);"></div>
<div class="abs" style="left:11.6px;top:12.9px;width:267px;height:82px;background:#fffbee;border-bottom:1.2px solid #c9d8ea"></div>
<div class="abs" style="left:92.8px;top:12.9px;width:1.3px;height:82px;background:#bfd2e9"></div>
<svg style="left:0;top:0" width="291" height="738" viewBox="0 0 291 738"><path d="M23.4 23.4 H80.6 Q82.5 23.4 82.5 25.3 V51.8 L81 53.3 V54.5 H23 V53.3 L21.5 51.8 V25.3 Q21.5 23.4 23.4 23.4Z" fill="#2d78b8"/><path d="M23 55.2 H81 V56.2 L82.5 57.7 V82.4 Q82.5 84.3 80.6 84.3 H23.4 Q21.5 84.3 21.5 82.4 V57.7 L23 56.2Z" fill="#3a8ed8"/><rect x="21.5" y="82" width="61" height="2.3" rx="1" fill="#2d78b8"/><rect x="23" y="54.2" width="58" height="1.4" fill="#2a6fab"/><rect x="112" y="60.7" width="49.2" height="1.5" fill="#8fb0dd"/><g transform="translate(21.4 102.3)"><rect x="-1" y="-1" width="22.2" height="22.2" rx="3.5" fill="#fff" fill-opacity="0.8"/><rect x="1" y="1" width="18.2" height="18.2" rx="2.4" fill="none" stroke="#2a5b94" stroke-width="2"/><path d="M6.4 14.4 Q10.4 12.6 14 6.4" fill="none" stroke="#2a5b94" stroke-width="2.2"/><path d="M4.4 14 L7.2 12.4 L8.6 14.8 L5.8 16.4 Z" fill="#2a5b94" stroke="#2a5b94" stroke-width="1.2" stroke-linejoin="round"/><path d="M12.8 5.6 L14.8 3.8 L16.6 5.8 L14.6 7.8 Z" fill="#2a5b94" stroke="#2a5b94" stroke-width="1.2" stroke-linejoin="round"/><path d="M5.6 8.4 Q5.4 6 7.6 5 Q9.4 4.4 9.4 6 Q9.4 8 7.4 8.6 Z" fill="#c9d5e4"/></g><circle cx="261.6" cy="110.7" r="7.6" fill="#ee636a"/><rect x="260.40000000000003" y="105.7" width="2.4" height="6" rx="1" fill="#fff"/><circle cx="261.6" cy="114.3" r="1.4" fill="#fff"/></svg>
<div class="t" style="left:51.8px;transform:translateX(-50%) scaleX(0.9205);transform-origin:50% 50%;top:34.49px;font-size:41px;color:#fff;">2</div>
<div class="t" style="left:110.6px;top:27.37px;font-size:26.5px;color:#1c4f9c;transform:scaleX(0.9637);transform-origin:0 50%;">Tuesday</div>
<div class="t" style="left:110.6px;top:68.53px;font-size:14.5px;color:#5d8ac6;transform:scaleX(0.9904);transform-origin:0 50%;">May, 2017</div>
<div class="t" style="left:51px;top:104.90px;font-size:15px;color:#1c4f9c;transform:scaleX(0.9307);transform-origin:0 50%;">Call with CEO of Ford</div>
<div class="t" style="left:52px;top:126.03px;font-size:11.3px;color:#8794a8;transform:scaleX(0.9802);transform-origin:0 50%;">task has due date.</div>
<div class="t" style="left:21px;top:169.88px;font-size:30.5px;color:#1c4f9c;">3</div>
<div class="t" style="left:51.2px;top:172.86px;font-size:10.8px;color:#1c4f9c;transform:scaleX(0.9157);transform-origin:0 50%;">WEDNESDAY</div>
<div class="t" style="left:51.2px;top:186.44px;font-size:12px;color:#5d8ac6;transform:scaleX(0.9920);transform-origin:0 50%;">MAY 2017</div>
<div class="abs" style="left:10.4px;top:208.3px;width:269.4px;height:106px;background:#f0f4f9;border:1.2px solid #b5cbe6;border-top:2.4px solid #174a9a;border-radius:0 0 3px 3px;box-shadow:0 1px 2px rgba(120,150,190,0.35);"></div>
<div class="abs" style="left:11.6px;top:261.2px;width:267px;height:1.3px;background:#d3e0ee"></div>
<svg style="left:0;top:0" width="291" height="738" viewBox="0 0 291 738"><g transform="translate(21.4 217.2)"><rect x="-1" y="1.4" width="22" height="20" rx="3.5" fill="#fff" fill-opacity="0.75"/><rect x="1" y="3.4" width="18.2" height="15.6" rx="2.4" fill="none" stroke="#2a5b94" stroke-width="2"/><rect x="1" y="3.4" width="18.2" height="4" fill="#2a5b94"/><rect x="4.2" y="0" width="2" height="4.6" rx="0.8" fill="#2a5b94" stroke="#fff" stroke-width="0.8"/><rect x="14" y="0" width="2" height="4.6" rx="0.8" fill="#2a5b94" stroke="#fff" stroke-width="0.8"/><text x="10.1" y="16.8" text-anchor="middle" font-family="Liberation Sans, sans-serif" font-weight="bold" font-size="10.4" fill="#2a5b94">22</text></g><g transform="translate(21.4 269.2)"><rect x="-1" y="1.4" width="22" height="20" rx="3.5" fill="#fff" fill-opacity="0.75"/><rect x="1" y="3.4" width="18.2" height="15.6" rx="2.4" fill="none" stroke="#2a5b94" stroke-width="2"/><rect x="1" y="3.4" width="18.2" height="4" fill="#2a5b94"/><rect x="4.2" y="0" width="2" height="4.6" rx="0.8" fill="#2a5b94" stroke="#fff" stroke-width="0.8"/><rect x="14" y="0" width="2" height="4.6" rx="0.8" fill="#2a5b94" stroke="#fff" stroke-width="0.8"/><text x="10.1" y="16.8" text-anchor="middle" font-family="Liberation Sans, sans-serif" font-weight="bold" font-size="10.4" fill="#2a5b94">22</text></g></svg>
<div class="t" style="left:51.2px;top:220.17px;font-size:14.8px;color:#1c4f9c;transform:scaleX(0.9269);transform-origin:0 50%;">Ford Motor Sales Process Pres...</div>
<div class="t" style="left:52.5px;top:239.73px;font-size:11.3px;color:#6e6a55;transform:scaleX(0.9928);transform-origin:0 50%;">9:00 AM - 10:00 AM</div>
<div class="t" style="left:51.2px;top:272.57px;font-size:14.8px;color:#1c4f9c;transform:scaleX(0.9733);transform-origin:0 50%;">Meeting with employees</div>
<div class="t" style="left:52.5px;top:291.93px;font-size:11.3px;color:#6e6a55;transform:scaleX(0.9768);transform-origin:0 50%;">2:00 PM - 3:00 PM</div>
<div class="t" style="left:21px;top:336.68px;font-size:30.5px;color:#1c4f9c;">4</div>
<div class="t" style="left:51.2px;top:339.46px;font-size:10.8px;color:#1c4f9c;transform:scaleX(0.9557);transform-origin:0 50%;">THURSDAY</div>
<div class="t" style="left:51.2px;top:352.84px;font-size:12px;color:#5d8ac6;transform:scaleX(0.9920);transform-origin:0 50%;">MAY 2017</div>
<div class="abs" style="left:10.4px;top:375px;width:269.4px;height:106px;background:#f0f4f9;border:1.2px solid #b5cbe6;border-top:2.4px solid #174a9a;border-radius:0 0 3px 3px;box-shadow:0 1px 2px rgba(120,150,190,0.35);"></div>
<div class="abs" style="left:11.6px;top:428.2px;width:267px;height:1.3px;background:#d3e0ee"></div>
<svg style="left:0;top:0" width="291" height="738" viewBox="0 0 291 738"><g transform="translate(21.4 383.8)"><rect x="-1" y="1.4" width="22" height="20" rx="3.5" fill="#fff" fill-opacity="0.75"/><rect x="1" y="3.4" width="18.2" height="15.6" rx="2.4" fill="none" stroke="#2a5b94" stroke-width="2"/><rect x="1" y="3.4" width="18.2" height="4" fill="#2a5b94"/><rect x="4.2" y="0" width="2" height="4.6" rx="0.8" fill="#2a5b94" stroke="#fff" stroke-width="0.8"/><rect x="14" y="0" width="2" height="4.6" rx="0.8" fill="#2a5b94" stroke="#fff" stroke-width="0.8"/><text x="10.1" y="16.8" text-anchor="middle" font-family="Liberation Sans, sans-serif" font-weight="bold" font-size="10.4" fill="#2a5b94">22</text></g><g transform="translate(21.2 438.1)"><rect x="0" y="0.0" width="20.4" height="4.2" rx="2.1" fill="#2a5b94"/><circle cx="2.6" cy="2.1" r="1" fill="#fff"/><rect x="0" y="5.9" width="20.4" height="4.2" rx="2.1" fill="#2a5b94"/><circle cx="2.6" cy="8.0" r="1" fill="#fff"/><rect x="0" y="11.8" width="20.4" height="4.2" rx="2.1" fill="#2a5b94"/><circle cx="2.6" cy="13.9" r="1" fill="#fff"/></g><polygon points="257.20,437.80 259.49,442.84 265.00,443.47 260.91,447.21 262.02,452.63 257.20,449.90 252.38,452.63 253.49,447.21 249.40,443.47 254.91,442.84" fill="#4cb555" stroke="#289a30" stroke-width="1.4" stroke-linejoin="round"/></svg>
<div class="t" style="left:51.2px;top:387.37px;font-size:14.8px;color:#1c4f9c;transform:scaleX(0.9594);transform-origin:0 50%;">Appointment with employees</div>
<div class="t" style="left:52.5px;top:406.63px;font-size:11.3px;color:#6e6a55;transform:scaleX(0.9984);transform-origin:0 50%;">10:00 AM - 11:00 AM</div>
<div class="t" style="left:51.2px;top:439.07px;font-size:14.8px;color:#1c4f9c;transform:scaleX(0.9326);transform-origin:0 50%;">Cloud Data Transfer</div>
<div class="t" style="left:52px;top:458.83px;font-size:11.3px;color:#8794a8;transform:scaleX(1.0142);transform-origin:0 50%;">opportunity has to be closed.</div>
<div class="t" style="left:242.6px;top:457.83px;font-size:11.3px;color:#2f9e3c;transform:scaleX(1.0032);transform-origin:0 50%;">100%</div>
<div class="t" style="left:21px;top:502.88px;font-size:30.5px;color:#1c4f9c;">7</div>
<div class="t" style="left:51.2px;top:506.06px;font-size:10.8px;color:#1c4f9c;transform:scaleX(0.9162);transform-origin:0 50%;">SUNDAY</div>
<div class="t" style="left:51.2px;top:519.44px;font-size:12px;color:#5d8ac6;transform:scaleX(0.9920);transform-origin:0 50%;">MAY 2017</div>
<div class="abs" style="left:10.4px;top:541.7px;width:269.4px;height:158.5px;background:#f0f4f9;border:1.2px solid #b5cbe6;border-top:2.4px solid #174a9a;border-radius:0 0 3px 3px;box-shadow:0 1px 2px rgba(120,150,190,0.35);"></div>
<div class="abs" style="left:11.6px;top:595.2px;width:267px;height:1.3px;background:#d3e0ee"></div>
<div class="abs" style="left:11.6px;top:647px;width:267px;height:1.3px;background:#d3e0ee"></div>
<svg style="left:0;top:0" width="291" height="738" viewBox="0 0 291 738"><g transform="translate(21.2 552.5)"><rect x="0" y="0.0" width="20.4" height="4.2" rx="2.1" fill="#2a5b94"/><circle cx="2.6" cy="2.1" r="1" fill="#fff"/><rect x="0" y="5.9" width="20.4" height="4.2" rx="2.1" fill="#2a5b94"/><circle cx="2.6" cy="8.0" r="1" fill="#fff"/><rect x="0" y="11.8" width="20.4" height="4.2" rx="2.1" fill="#2a5b94"/><circle cx="2.6" cy="13.9" r="1" fill="#fff"/></g><g transform="translate(21.4 602.6)"><rect x="-1" y="-1" width="22.2" height="22.2" rx="3.5" fill="#fff" fill-opacity="0.8"/><rect x="1" y="1" width="18.2" height="18.2" rx="2.4" fill="none" stroke="#2a5b94" stroke-width="2"/><path d="M5.4 10.2 L8.8 13.6 L14.8 6.4" fill="none" stroke="#2a5b94" stroke-width="2.4"/></g><g transform="translate(21.2 656.8)"><rect x="0" y="0.0" width="20.4" height="4.2" rx="2.1" fill="#2a5b94"/><circle cx="2.6" cy="2.1" r="1" fill="#fff"/><rect x="0" y="5.9" width="20.4" height="4.2" rx="2.1" fill="#2a5b94"/><circle cx="2.6" cy="8.0" r="1" fill="#fff"/><rect x="0" y="11.8" width="20.4" height="4.2" rx="2.1" fill="#2a5b94"/><circle cx="2.6" cy="13.9" r="1" fill="#fff"/></g><circle cx="214.1" cy="560.1" r="4.9" fill="none" stroke="#1f9a30" stroke-width="1.7"/><path d="M214.1 552.7 V567.5 M206.7 560.1 H221.5" stroke="#1f9a30" stroke-width="1.8"/><circle cx="214.1" cy="560.1" r="1.5" fill="#f4f8f4"/><path d="M232.40 552.30 C234.10 554.60 235.00 556.10 235.40 557.90 C236.00 557.10 236.40 556.10 236.40 555.10 C238.00 557.10 238.80 559.60 238.80 562.10 C238.80 565.70 236.00 567.70 232.60 567.70 C229.00 567.70 226.40 565.50 226.40 562.30 C226.40 560.10 227.40 558.10 228.40 556.50 C228.80 557.70 229.40 558.70 230.00 559.30 C230.00 556.50 231.00 554.10 232.40 552.30Z" fill="#ee3c3c"/><path d="M233.00 558.90 C234.40 560.90 235.60 562.70 235.60 564.70 C235.60 566.70 234.20 567.70 232.60 567.70 C230.80 567.70 229.60 566.50 229.60 564.90 C229.60 563.50 230.40 562.50 231.20 561.70 C231.40 562.50 231.80 562.90 232.20 563.10 C232.00 561.50 232.40 560.10 233.00 558.90Z" fill="#fbd93a"/><polygon points="257.20,552.00 259.49,557.04 265.00,557.67 260.91,561.41 262.02,566.83 257.20,564.10 252.38,566.83 253.49,561.41 249.40,557.67 254.91,557.04" fill="#fbc12f" stroke="#d68a16" stroke-width="1.4" stroke-linejoin="round"/><circle cx="262" cy="610.7" r="7.6" fill="#ee636a"/><rect x="260.8" y="605.7" width="2.4" height="6" rx="1" fill="#fff"/><circle cx="262" cy="614.3000000000001" r="1.4" fill="#fff"/><circle cx="227.4" cy="664.2" r="7.4" fill="#3b84c4"/><rect x="224.20000000000002" y="660.4000000000001" width="2.3" height="7.6" rx="0.6" fill="#fff"/><rect x="228.3" y="660.4000000000001" width="2.3" height="7.6" rx="0.6" fill="#fff"/><polygon points="257.20,656.20 259.49,661.24 265.00,661.87 260.91,665.61 262.02,671.03 257.20,668.30 252.38,671.03 253.49,665.61 249.40,661.87 254.91,661.24" fill="#4cb555" stroke="#289a30" stroke-width="1.4" stroke-linejoin="round"/></svg>
<div class="t" style="left:51.2px;top:553.57px;font-size:14.8px;color:#1c4f9c;transform:scaleX(0.9060);transform-origin:0 50%;">Customer Success</div>
<div class="t" style="left:52px;top:573.43px;font-size:11.3px;color:#8794a8;transform:scaleX(1.0142);transform-origin:0 50%;">opportunity has to be closed.</div>
<div class="t" style="left:246px;top:572.73px;font-size:11.3px;color:#c3842a;transform:scaleX(1.0033);transform-origin:0 50%;">50%</div>
<div class="t" style="left:51.2px;top:606.07px;font-size:14.8px;color:#1c4f9c;transform:scaleX(0.9464);transform-origin:0 50%;">Send document "30 Unique Be...</div>
<div class="t" style="left:52px;top:625.73px;font-size:11.3px;color:#8794a8;transform:scaleX(0.9802);transform-origin:0 50%;">task has due date.</div>
<div class="t" style="left:51.2px;top:658.27px;font-size:14.8px;color:#1c4f9c;transform:scaleX(0.9275);transform-origin:0 50%;">Storage Management</div>
<div class="t" style="left:52px;top:677.63px;font-size:11.3px;color:#8794a8;transform:scaleX(1.0142);transform-origin:0 50%;">opportunity has to be closed.</div>
<div class="t" style="left:242.6px;top:676.73px;font-size:11.3px;color:#2f9e3c;transform:scaleX(1.0032);transform-origin:0 50%;">100%</div>
</div>
<div id="sb2">
<svg style="left:3.3px;top:9.5px" width="9" height="6" viewBox="0 0 9 6"><path d="M1 4.8 L4.4 1.5 L7.8 4.8" fill="none" stroke="#14233d" stroke-width="1.7"/></svg>
<div class="abs" style="left:0.3px;top:23.5px;width:14.7px;height:45.5px;background:#bcd1ec;border:1.2px solid #9cbbe4;border-radius:3.5px"></div>
<svg style="left:3.3px;top:722.5px" width="9" height="6" viewBox="0 0 9 6"><path d="M1 1.2 L4.4 4.5 L7.8 1.2" fill="none" stroke="#14233d" stroke-width="1.7"/></svg>
</div>
<div id="topline"></div>
</body>
</html>
